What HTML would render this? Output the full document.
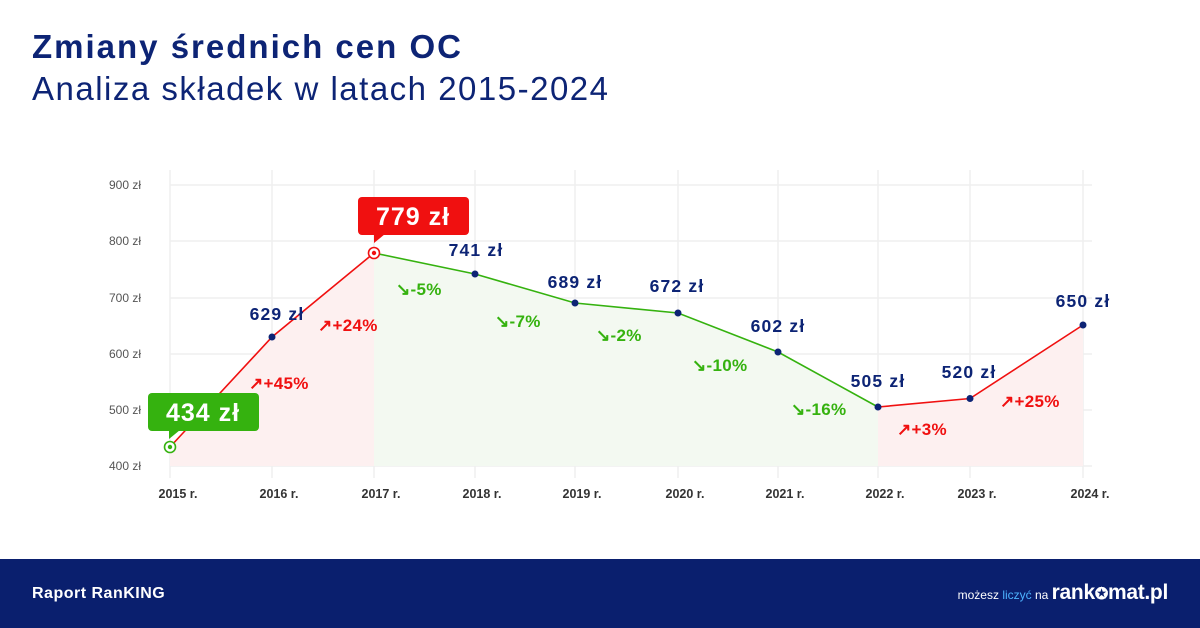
<!DOCTYPE html>
<html><head><meta charset="utf-8"><style>
body{margin:0;width:1200px;height:628px;background:#fff;font-family:"Liberation Sans",sans-serif;overflow:hidden;position:relative}
.t1{position:absolute;left:32px;top:28px;font-size:33px;font-weight:bold;color:#0d2475;letter-spacing:2px}
.t2{position:absolute;left:32px;top:70px;font-size:33px;color:#0d2475;letter-spacing:1.5px}
.foot{position:absolute;left:0;top:559px;width:1200px;height:69px;background:#0a1f6e;color:#fff}
</style></head><body>
<div class="t1">Zmiany średnich cen OC</div>
<div class="t2">Analiza składek w latach 2015-2024</div>
<svg width="1200" height="559" style="position:absolute;left:0;top:0" font-family="Liberation Sans, sans-serif">
<g stroke="#efefef" stroke-width="1.5">
<line x1="170" y1="185" x2="1092" y2="185"/><line x1="170" y1="241" x2="1092" y2="241"/><line x1="170" y1="298" x2="1092" y2="298"/><line x1="170" y1="354" x2="1092" y2="354"/><line x1="170" y1="410" x2="1092" y2="410"/><line x1="170" y1="466" x2="1092" y2="466"/>
<line x1="170" y1="170" x2="170" y2="478"/><line x1="272" y1="170" x2="272" y2="478"/><line x1="374" y1="170" x2="374" y2="478"/><line x1="475" y1="170" x2="475" y2="478"/><line x1="575" y1="170" x2="575" y2="478"/><line x1="678" y1="170" x2="678" y2="478"/><line x1="778" y1="170" x2="778" y2="478"/><line x1="878" y1="170" x2="878" y2="478"/><line x1="970" y1="170" x2="970" y2="478"/><line x1="1083" y1="170" x2="1083" y2="478"/>
</g>
<g font-size="12" fill="#555" text-anchor="end">
<text x="141" y="189">900 zł</text><text x="141" y="245">800 zł</text><text x="141" y="302">700 zł</text><text x="141" y="358">600 zł</text><text x="141" y="414">500 zł</text><text x="141" y="470">400 zł</text>
</g>
<g font-size="12.5" font-weight="bold" fill="#333" text-anchor="middle">
<text x="178" y="498">2015 r.</text><text x="279" y="498">2016 r.</text><text x="381" y="498">2017 r.</text><text x="482" y="498">2018 r.</text><text x="582" y="498">2019 r.</text><text x="685" y="498">2020 r.</text><text x="785" y="498">2021 r.</text><text x="885" y="498">2022 r.</text><text x="977" y="498">2023 r.</text><text x="1090" y="498">2024 r.</text>
</g>
<polygon points="170,447 272,337 374,253 374,466 170,466" fill="#fdf0f0"/>
<polygon points="374,253 475,274 575,303 678,313 778,352 878,407 878,466 374,466" fill="#f3f9f1"/>
<polygon points="878,407 970,398.5 1083,325 1083,466 878,466" fill="#fdf0f0"/>
<polyline points="170,447 272,337 374,253" fill="none" stroke="#f01010" stroke-width="1.6"/>
<polyline points="374,253 475,274 575,303 678,313 778,352 878,407" fill="none" stroke="#35b20f" stroke-width="1.6"/>
<polyline points="878,407 970,398.5 1083,325" fill="none" stroke="#f01010" stroke-width="1.6"/>
<g fill="#0d2475"><circle cx="272" cy="337" r="3.5"/><circle cx="475" cy="274" r="3.5"/><circle cx="575" cy="303" r="3.5"/><circle cx="678" cy="313" r="3.5"/><circle cx="778" cy="352" r="3.5"/><circle cx="878" cy="407" r="3.5"/><circle cx="970" cy="398.5" r="3.5"/><circle cx="1083" cy="325" r="3.5"/></g>
<circle cx="170" cy="447" r="5.5" fill="#fff" stroke="#35b20f" stroke-width="1.6"/><circle cx="170" cy="447" r="2.2" fill="#35b20f"/>
<circle cx="374" cy="253" r="5.5" fill="#fff" stroke="#f01010" stroke-width="1.6"/><circle cx="374" cy="253" r="2.2" fill="#f01010"/>
<rect x="148" y="393" width="111" height="38" rx="4" fill="#35b20f"/><polygon points="169,430 180,430 169,439" fill="#35b20f"/>
<text x="203" y="421" font-size="25" font-weight="bold" fill="#fff" text-anchor="middle" letter-spacing="1">434 zł</text>
<rect x="358" y="197" width="111" height="38" rx="4" fill="#f01010"/><polygon points="374,234 385,234 374,243" fill="#f01010"/>
<text x="413" y="225" font-size="25" font-weight="bold" fill="#fff" text-anchor="middle" letter-spacing="1">779 zł</text>
<g font-size="17.5" font-weight="bold" fill="#0d2475" text-anchor="middle" letter-spacing="1.2">
<text x="277" y="320">629 zł</text><text x="476" y="256">741 zł</text><text x="575" y="288">689 zł</text><text x="677" y="292">672 zł</text><text x="778" y="332">602 zł</text><text x="878" y="387">505 zł</text><text x="969" y="378">520 zł</text><text x="1083" y="307">650 zł</text>
</g>
<g font-size="17" fill="#f01010" font-weight="bold" letter-spacing="0.3">
<text x="249" y="389">↗+45%</text><text x="318" y="331">↗+24%</text><text x="897" y="435">↗+3%</text><text x="1000" y="407">↗+25%</text>
</g>
<g font-size="17" fill="#35b20f" font-weight="bold" letter-spacing="0.3">
<text x="396" y="295">↘-5%</text><text x="495" y="327">↘-7%</text><text x="596" y="341">↘-2%</text><text x="692" y="371">↘-10%</text><text x="791" y="415">↘-16%</text>
</g>
</svg>
<div class="foot">
<div style="position:absolute;left:32px;top:26px;font-size:16px;font-weight:bold;letter-spacing:0.5px">Raport RanKING</div>
<div style="position:absolute;right:32px;top:22px;font-size:12px;white-space:nowrap">możesz <span style="color:#4db3ff">liczyć</span> na <span style="font-size:21px;font-weight:bold;letter-spacing:-0.3px">rank<span style="font-size:16px">✪</span>mat.pl</span></div>
</div>
</body></html>
